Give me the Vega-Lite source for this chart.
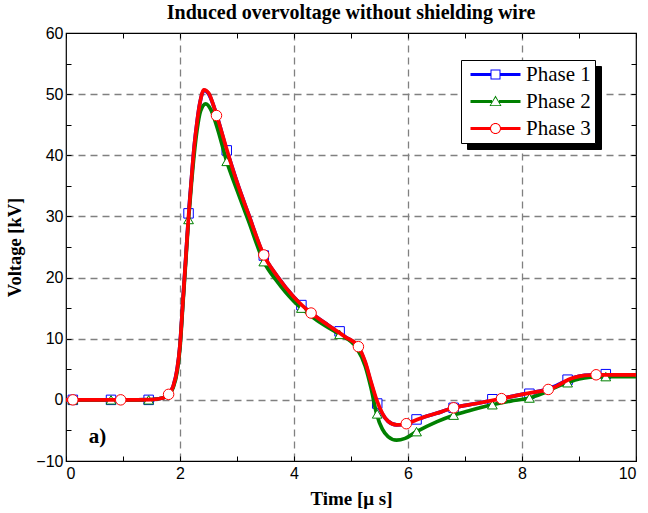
{
  "$schema": "https://vega.github.io/schema/vega-lite/v6.json",
  "width": 570,
  "height": 428,
  "autosize": {"type": "none"},
  "padding": {"left": 66, "top": 33, "right": 12, "bottom": 52},
  "background": "white",
  "title": {"text": "Induced overvoltage without shielding wire", "font": "Liberation Serif", "fontSize": 20, "fontWeight": "bold", "color": "black", "offset": 2},
  "config": {"view": {"stroke": "black", "strokeWidth": 1.2}},
  "datasets": {
    "curves": [
      {"phase": "Phase 1", "t": 0, "v": 0}, {"phase": "Phase 1", "t": 0.5, "v": 0}, {"phase": "Phase 1", "t": 1.0, "v": 0}, {"phase": "Phase 1", "t": 1.5, "v": 0.05}, {"phase": "Phase 1", "t": 1.7, "v": 0.3}, {"phase": "Phase 1", "t": 1.8, "v": 0.9}, {"phase": "Phase 1", "t": 1.88, "v": 2.2}, {"phase": "Phase 1", "t": 1.95, "v": 5}, {"phase": "Phase 1", "t": 2.0, "v": 9}, {"phase": "Phase 1", "t": 2.05, "v": 16}, {"phase": "Phase 1", "t": 2.1, "v": 23}, {"phase": "Phase 1", "t": 2.15, "v": 30.2}, {"phase": "Phase 1", "t": 2.2, "v": 36}, {"phase": "Phase 1", "t": 2.25, "v": 41.5}, {"phase": "Phase 1", "t": 2.3, "v": 45.5}, {"phase": "Phase 1", "t": 2.35, "v": 48.6}, {"phase": "Phase 1", "t": 2.42, "v": 50.6}, {"phase": "Phase 1", "t": 2.5, "v": 50.1}, {"phase": "Phase 1", "t": 2.6, "v": 47.8}, {"phase": "Phase 1", "t": 2.7, "v": 44.8}, {"phase": "Phase 1", "t": 2.8, "v": 41.4}, {"phase": "Phase 1", "t": 2.9, "v": 38.5}, {"phase": "Phase 1", "t": 3.0, "v": 35.6}, {"phase": "Phase 1", "t": 3.2, "v": 30.4}, {"phase": "Phase 1", "t": 3.47, "v": 23.6}, {"phase": "Phase 1", "t": 3.7, "v": 20.3}, {"phase": "Phase 1", "t": 4.0, "v": 16.8}, {"phase": "Phase 1", "t": 4.3, "v": 14.2}, {"phase": "Phase 1", "t": 4.6, "v": 12.2}, {"phase": "Phase 1", "t": 4.9, "v": 10.3}, {"phase": "Phase 1", "t": 5.13, "v": 8.6}, {"phase": "Phase 1", "t": 5.25, "v": 6.0}, {"phase": "Phase 1", "t": 5.35, "v": 2.8}, {"phase": "Phase 1", "t": 5.45, "v": -0.3}, {"phase": "Phase 1", "t": 5.55, "v": -2.3}, {"phase": "Phase 1", "t": 5.65, "v": -3.5}, {"phase": "Phase 1", "t": 5.8, "v": -4.1}, {"phase": "Phase 1", "t": 5.97, "v": -3.9}, {"phase": "Phase 1", "t": 6.2, "v": -3.1}, {"phase": "Phase 1", "t": 6.5, "v": -2.2}, {"phase": "Phase 1", "t": 6.8, "v": -1.3}, {"phase": "Phase 1", "t": 7.2, "v": -0.6}, {"phase": "Phase 1", "t": 7.64, "v": 0.2}, {"phase": "Phase 1", "t": 8.0, "v": 0.9}, {"phase": "Phase 1", "t": 8.25, "v": 1.3}, {"phase": "Phase 1", "t": 8.46, "v": 1.8}, {"phase": "Phase 1", "t": 8.6, "v": 2.3}, {"phase": "Phase 1", "t": 8.75, "v": 3.0}, {"phase": "Phase 1", "t": 8.9, "v": 3.6}, {"phase": "Phase 1", "t": 9.1, "v": 4.0}, {"phase": "Phase 1", "t": 9.3, "v": 4.1}, {"phase": "Phase 1", "t": 9.6, "v": 4.1}, {"phase": "Phase 1", "t": 10, "v": 4.1},

      {"phase": "Phase 2", "t": 0, "v": 0}, {"phase": "Phase 2", "t": 0.5, "v": 0}, {"phase": "Phase 2", "t": 1.0, "v": 0}, {"phase": "Phase 2", "t": 1.5, "v": 0.05}, {"phase": "Phase 2", "t": 1.7, "v": 0.3}, {"phase": "Phase 2", "t": 1.8, "v": 0.8}, {"phase": "Phase 2", "t": 1.88, "v": 2.0}, {"phase": "Phase 2", "t": 1.95, "v": 4.6}, {"phase": "Phase 2", "t": 2.0, "v": 8.5}, {"phase": "Phase 2", "t": 2.05, "v": 15.5}, {"phase": "Phase 2", "t": 2.1, "v": 22.5}, {"phase": "Phase 2", "t": 2.15, "v": 29.5}, {"phase": "Phase 2", "t": 2.2, "v": 35.3}, {"phase": "Phase 2", "t": 2.25, "v": 40.3}, {"phase": "Phase 2", "t": 2.3, "v": 44.2}, {"phase": "Phase 2", "t": 2.36, "v": 47.2}, {"phase": "Phase 2", "t": 2.45, "v": 48.4}, {"phase": "Phase 2", "t": 2.55, "v": 47.3}, {"phase": "Phase 2", "t": 2.65, "v": 44.6}, {"phase": "Phase 2", "t": 2.82, "v": 39}, {"phase": "Phase 2", "t": 3.0, "v": 34.3}, {"phase": "Phase 2", "t": 3.2, "v": 29.3}, {"phase": "Phase 2", "t": 3.47, "v": 22.6}, {"phase": "Phase 2", "t": 3.7, "v": 19.4}, {"phase": "Phase 2", "t": 4.0, "v": 16.1}, {"phase": "Phase 2", "t": 4.13, "v": 15}, {"phase": "Phase 2", "t": 4.4, "v": 13}, {"phase": "Phase 2", "t": 4.8, "v": 10.7}, {"phase": "Phase 2", "t": 5.1, "v": 8.5}, {"phase": "Phase 2", "t": 5.25, "v": 5.5}, {"phase": "Phase 2", "t": 5.35, "v": 2}, {"phase": "Phase 2", "t": 5.45, "v": -2.3}, {"phase": "Phase 2", "t": 5.55, "v": -4.8}, {"phase": "Phase 2", "t": 5.65, "v": -6.0}, {"phase": "Phase 2", "t": 5.8, "v": -6.6}, {"phase": "Phase 2", "t": 5.95, "v": -6.3}, {"phase": "Phase 2", "t": 6.15, "v": -5.2}, {"phase": "Phase 2", "t": 6.5, "v": -3.6}, {"phase": "Phase 2", "t": 6.8, "v": -2.5}, {"phase": "Phase 2", "t": 7.1, "v": -1.7}, {"phase": "Phase 2", "t": 7.48, "v": -0.8}, {"phase": "Phase 2", "t": 7.8, "v": -0.2}, {"phase": "Phase 2", "t": 8.13, "v": 0.3}, {"phase": "Phase 2", "t": 8.4, "v": 1.2}, {"phase": "Phase 2", "t": 8.6, "v": 2.1}, {"phase": "Phase 2", "t": 8.8, "v": 2.8}, {"phase": "Phase 2", "t": 9.0, "v": 3.4}, {"phase": "Phase 2", "t": 9.2, "v": 3.7}, {"phase": "Phase 2", "t": 9.47, "v": 3.8}, {"phase": "Phase 2", "t": 10, "v": 3.8},

      {"phase": "Phase 3", "t": 0, "v": 0}, {"phase": "Phase 3", "t": 0.5, "v": 0}, {"phase": "Phase 3", "t": 1.0, "v": 0}, {"phase": "Phase 3", "t": 1.5, "v": 0.05}, {"phase": "Phase 3", "t": 1.7, "v": 0.3}, {"phase": "Phase 3", "t": 1.8, "v": 0.9}, {"phase": "Phase 3", "t": 1.88, "v": 2.2}, {"phase": "Phase 3", "t": 1.95, "v": 5}, {"phase": "Phase 3", "t": 2.0, "v": 9}, {"phase": "Phase 3", "t": 2.05, "v": 16}, {"phase": "Phase 3", "t": 2.1, "v": 23}, {"phase": "Phase 3", "t": 2.15, "v": 30}, {"phase": "Phase 3", "t": 2.2, "v": 36}, {"phase": "Phase 3", "t": 2.25, "v": 41.5}, {"phase": "Phase 3", "t": 2.3, "v": 45.5}, {"phase": "Phase 3", "t": 2.35, "v": 48.6}, {"phase": "Phase 3", "t": 2.42, "v": 50.7}, {"phase": "Phase 3", "t": 2.5, "v": 50.2}, {"phase": "Phase 3", "t": 2.6, "v": 47.8}, {"phase": "Phase 3", "t": 2.7, "v": 44.8}, {"phase": "Phase 3", "t": 2.8, "v": 41.6}, {"phase": "Phase 3", "t": 2.9, "v": 38.5}, {"phase": "Phase 3", "t": 3.0, "v": 35.6}, {"phase": "Phase 3", "t": 3.2, "v": 30.4}, {"phase": "Phase 3", "t": 3.47, "v": 23.7}, {"phase": "Phase 3", "t": 3.7, "v": 20.3}, {"phase": "Phase 3", "t": 4.0, "v": 16.8}, {"phase": "Phase 3", "t": 4.3, "v": 14.2}, {"phase": "Phase 3", "t": 4.6, "v": 12.2}, {"phase": "Phase 3", "t": 4.9, "v": 10.3}, {"phase": "Phase 3", "t": 5.13, "v": 8.7}, {"phase": "Phase 3", "t": 5.25, "v": 6.2}, {"phase": "Phase 3", "t": 5.35, "v": 3}, {"phase": "Phase 3", "t": 5.45, "v": 0}, {"phase": "Phase 3", "t": 5.55, "v": -2.2}, {"phase": "Phase 3", "t": 5.65, "v": -3.5}, {"phase": "Phase 3", "t": 5.8, "v": -4.1}, {"phase": "Phase 3", "t": 5.97, "v": -3.9}, {"phase": "Phase 3", "t": 6.2, "v": -3.1}, {"phase": "Phase 3", "t": 6.5, "v": -2.2}, {"phase": "Phase 3", "t": 6.8, "v": -1.3}, {"phase": "Phase 3", "t": 7.2, "v": -0.6}, {"phase": "Phase 3", "t": 7.64, "v": 0.2}, {"phase": "Phase 3", "t": 8.0, "v": 0.9}, {"phase": "Phase 3", "t": 8.25, "v": 1.3}, {"phase": "Phase 3", "t": 8.46, "v": 1.7}, {"phase": "Phase 3", "t": 8.6, "v": 2.2}, {"phase": "Phase 3", "t": 8.75, "v": 3.0}, {"phase": "Phase 3", "t": 8.9, "v": 3.6}, {"phase": "Phase 3", "t": 9.1, "v": 4.0}, {"phase": "Phase 3", "t": 9.3, "v": 4.1}, {"phase": "Phase 3", "t": 9.6, "v": 4.1}, {"phase": "Phase 3", "t": 10, "v": 4.1}
    ],
    "markers": [
      {"series": "Phase 1", "t": 0.12, "v": 0}, {"series": "Phase 1", "t": 0.79, "v": 0}, {"series": "Phase 1", "t": 1.45, "v": 0}, {"series": "Phase 1", "t": 2.15, "v": 30.5}, {"series": "Phase 1", "t": 2.82, "v": 40.8}, {"series": "Phase 1", "t": 3.47, "v": 23.6}, {"series": "Phase 1", "t": 4.13, "v": 15.5}, {"series": "Phase 1", "t": 4.8, "v": 11.2}, {"series": "Phase 1", "t": 5.46, "v": -0.6}, {"series": "Phase 1", "t": 6.15, "v": -3.2}, {"series": "Phase 1", "t": 6.8, "v": -1.3}, {"series": "Phase 1", "t": 7.48, "v": 0.1}, {"series": "Phase 1", "t": 8.13, "v": 1.0}, {"series": "Phase 1", "t": 8.8, "v": 3.3}, {"series": "Phase 1", "t": 9.47, "v": 4.2},
      {"series": "Phase 2", "t": 0.12, "v": 0}, {"series": "Phase 2", "t": 0.79, "v": 0}, {"series": "Phase 2", "t": 1.45, "v": 0}, {"series": "Phase 2", "t": 2.15, "v": 29.5}, {"series": "Phase 2", "t": 2.82, "v": 39}, {"series": "Phase 2", "t": 3.47, "v": 22.6}, {"series": "Phase 2", "t": 4.13, "v": 15}, {"series": "Phase 2", "t": 4.8, "v": 10.7}, {"series": "Phase 2", "t": 5.46, "v": -2.3}, {"series": "Phase 2", "t": 6.15, "v": -5.2}, {"series": "Phase 2", "t": 6.8, "v": -2.5}, {"series": "Phase 2", "t": 7.48, "v": -0.8}, {"series": "Phase 2", "t": 8.13, "v": 0.3}, {"series": "Phase 2", "t": 8.8, "v": 2.8}, {"series": "Phase 2", "t": 9.47, "v": 3.8},
      {"series": "Phase 3", "t": 0.12, "v": 0}, {"series": "Phase 3", "t": 0.96, "v": 0}, {"series": "Phase 3", "t": 1.8, "v": 0.9}, {"series": "Phase 3", "t": 2.64, "v": 46.5}, {"series": "Phase 3", "t": 3.47, "v": 23.7}, {"series": "Phase 3", "t": 4.3, "v": 14.2}, {"series": "Phase 3", "t": 5.13, "v": 8.7}, {"series": "Phase 3", "t": 5.97, "v": -3.9}, {"series": "Phase 3", "t": 6.8, "v": -1.3}, {"series": "Phase 3", "t": 7.64, "v": 0.2}, {"series": "Phase 3", "t": 8.46, "v": 1.7}, {"series": "Phase 3", "t": 9.3, "v": 4.1}
    ]
  },
  "resolve": {"axis": {"x": "independent", "y": "independent"}},
  "layer": [
    {
      "data": {"name": "curves"},
      "transform": [{"filter": "datum.phase == 'Phase 1'"}],
      "mark": {"type": "line", "interpolate": "monotone", "strokeWidth": 3.7},
      "encoding": {
        "x": {"field": "t", "type": "quantitative", "scale": {"domain": [0, 10], "nice": false},
          "axis": {"values": [0,1,2,3,4,5,6,7,8,9,10], "labelExpr": "datum.value % 2 == 0 ? datum.label : ''",
            "grid": true, "gridColor": "#808080", "gridDash": [7, 5], "gridWidth": 1.3,
            "gridOpacity": {"condition": {"test": "datum.value % 2 != 0 || datum.value == 0 || datum.value == 10", "value": 0}, "value": 1},
            "domain": false, "tickColor": "black", "tickSize": -5, "labelPadding": 9,
            "labelFont": "Liberation Sans", "labelFontSize": 16, "labelColor": "black",
            "title": "Time [μ s]", "titleFont": "Liberation Serif", "titleFontSize": 19, "titleFontWeight": "bold", "titleColor": "black", "titlePadding": 8}},
        "y": {"field": "v", "type": "quantitative", "scale": {"domain": [-10, 60], "nice": false},
          "axis": {"values": [-10,-5,0,5,10,15,20,25,30,35,40,45,50,55,60], "labelExpr": "datum.value % 10 == 0 ? datum.label : ''",
            "grid": true, "gridColor": "#808080", "gridDash": [7, 5], "gridWidth": 1.3,
            "gridOpacity": {"condition": {"test": "datum.value % 10 != 0 || datum.value == -10 || datum.value == 60", "value": 0}, "value": 1},
            "domain": false, "tickColor": "black", "tickSize": -5, "labelPadding": 8,
            "labelFont": "Liberation Sans", "labelFontSize": 16, "labelColor": "black",
            "title": "Voltage [kV]", "titleFont": "Liberation Serif", "titleFontSize": 18.5, "titleFontWeight": "bold", "titleColor": "black", "titlePadding": 11}},
        "color": {"field": "phase", "type": "nominal",
          "scale": {"range": ["#0000ff", "#008000", "#ff0000"]},
          "legend": {"orient": "none", "legendX": 401, "legendY": 33, "title": null,
            "fillColor": "black", "strokeColor": "black", "padding": 4, "symbolSize": 400, "labelOffset": 40,
            "labelFont": "Liberation Serif", "labelFontSize": 21, "labelColor": "black", "rowPadding": 5,
            "symbolOpacity": 0, "symbolStrokeWidth": 0, "symbolStrokeColor": "black"}}
      }
    },
    {
      "data": {"name": "markers"},
      "transform": [{"filter": "datum.series == 'Phase 1'"}],
      "mark": {"type": "point", "shape": "square", "size": 90, "fill": "white", "opacity": 1, "strokeWidth": 1},
      "encoding": {
        "x": {"field": "t", "type": "quantitative", "axis": null},
        "y": {"field": "v", "type": "quantitative", "axis": null},
        "stroke": {"field": "series", "type": "nominal", "scale": {"range": ["#0000ff", "#008000", "#ff0000"]}, "legend": null}
      }
    },
    {
      "data": {"name": "curves"},
      "transform": [{"filter": "datum.phase == 'Phase 2'"}],
      "mark": {"type": "line", "interpolate": "monotone", "strokeWidth": 3.7},
      "encoding": {
        "x": {"field": "t", "type": "quantitative", "axis": null},
        "y": {"field": "v", "type": "quantitative", "axis": null},
        "color": {"field": "phase", "type": "nominal"}
      }
    },
    {
      "data": {"name": "markers"},
      "transform": [{"filter": "datum.series == 'Phase 2'"}],
      "mark": {"type": "point", "shape": "triangle-up", "size": 95, "fill": "white", "opacity": 1, "strokeWidth": 1},
      "encoding": {
        "x": {"field": "t", "type": "quantitative", "axis": null},
        "y": {"field": "v", "type": "quantitative", "axis": null},
        "stroke": {"field": "series", "type": "nominal", "legend": null}
      }
    },
    {
      "data": {"name": "curves"},
      "transform": [{"filter": "datum.phase == 'Phase 3'"}],
      "mark": {"type": "line", "interpolate": "monotone", "strokeWidth": 3.7},
      "encoding": {
        "x": {"field": "t", "type": "quantitative", "axis": null},
        "y": {"field": "v", "type": "quantitative", "axis": null},
        "color": {"field": "phase", "type": "nominal"}
      }
    },
    {
      "data": {"name": "markers"},
      "transform": [{"filter": "datum.series == 'Phase 3'"}],
      "mark": {"type": "point", "shape": "circle", "size": 110, "fill": "white", "opacity": 1, "strokeWidth": 1},
      "encoding": {
        "x": {"field": "t", "type": "quantitative", "axis": null},
        "y": {"field": "v", "type": "quantitative", "axis": null},
        "stroke": {"field": "series", "type": "nominal", "legend": null}
      }
    },
    {
      "data": {"name": "markers"},
      "transform": [{"filter": "datum.t < -100"}],
      "mark": {"type": "point", "filled": true, "opacity": 1},
      "encoding": {
        "x": {"field": "t", "type": "quantitative", "axis": null},
        "y": {"field": "v", "type": "quantitative", "axis": null},
        "shape": {"field": "series", "type": "nominal",
          "scale": {"domain": ["Phase 1", "Phase 2", "Phase 3"], "range": [
            "M-0.5,-0.15H1.5V0.15H-0.5Z M2.5,-0.15H4.5V0.15H2.5Z M1.5,-0.5H2.5V0.5H1.5Z M1.6,-0.4V0.4H2.4V-0.4Z",
            "M-0.5,-0.15H1.65V0.15H-0.5Z M2.35,-0.15H4.5V0.15H2.35Z M2,-0.6L2.6,0.45H1.4Z M2,-0.4L1.53,0.37H2.47Z",
            "M-0.5,-0.15H1.47V0.15H-0.5Z M2.53,-0.15H4.5V0.15H2.53Z M1.45,0A0.55,0.55 0 1,1 2.55,0A0.55,0.55 0 1,1 1.45,0Z M1.55,0A0.45,0.45 0 1,0 2.45,0A0.45,0.45 0 1,0 1.55,0Z"]},
          "legend": {"orient": "none", "legendX": 395, "legendY": 27, "title": null,
            "fillColor": "white", "strokeColor": "black", "padding": 4, "symbolSize": 400, "labelOffset": 40,
            "labelFont": "Liberation Serif", "labelFontSize": 21, "labelColor": "black", "rowPadding": 5, "symbolStrokeWidth": 0}},
        "fill": {"field": "series", "type": "nominal",
          "scale": {"domain": ["Phase 1", "Phase 2", "Phase 3"], "range": ["#0000ff", "#008000", "#ff0000"]},
          "legend": {"orient": "none", "legendX": 395, "legendY": 27, "title": null,
            "fillColor": "white", "strokeColor": "black", "padding": 4, "symbolSize": 400, "labelOffset": 40,
            "labelFont": "Liberation Serif", "labelFontSize": 21, "labelColor": "black", "rowPadding": 5, "symbolStrokeWidth": 0}}
      }
    },
    {
      "data": {"values": [{"label": "a)"}]},
      "mark": {"type": "text", "font": "Liberation Serif", "fontSize": 21, "fontWeight": "bold", "align": "left", "baseline": "middle", "color": "black"},
      "encoding": {
        "text": {"field": "label"},
        "x": {"datum": 0.4, "type": "quantitative",
          "axis": {"orient": "top", "values": [0,1,2,3,4,5,6,7,8,9,10], "labels": false, "grid": false, "domain": false, "tickColor": "black", "tickSize": -5, "title": null, "minExtent": 0, "maxExtent": 0}},
        "y": {"datum": -6, "type": "quantitative",
          "axis": {"orient": "right", "values": [-10,-5,0,5,10,15,20,25,30,35,40,45,50,55,60], "labels": false, "grid": false, "domain": false, "tickColor": "black", "tickSize": -5, "title": null, "minExtent": 0, "maxExtent": 0}}
      }
    }
  ]
}
